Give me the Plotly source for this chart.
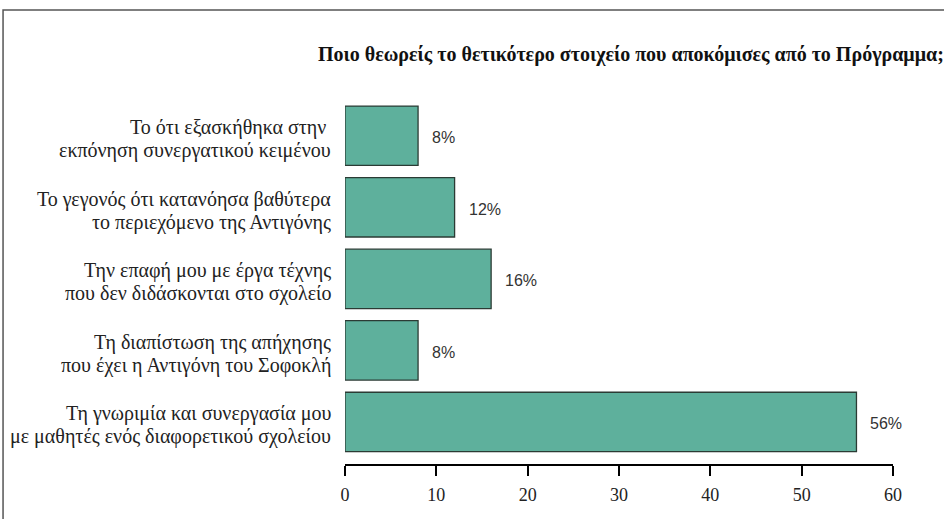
import plotly.graph_objects as go

title = "Ποιο θεωρείς το θετικότερο στοιχείο που αποκόμισες από το Πρόγραμμα;"
categories = [
    "Το ότι εξασκήθηκα στην <br>εκπόνηση συνεργατικού κειμένου",
    "Το γεγονός ότι κατανόησα βαθύτερα<br>το περιεχόμενο της Αντιγόνης",
    "Την επαφή μου με έργα τέχνης<br>που δεν διδάσκονται στο σχολείο",
    "Τη διαπίστωση της απήχησης<br>που έχει η Αντιγόνη του Σοφοκλή",
    "Τη γνωριμία και συνεργασία μου<br>με μαθητές ενός διαφορετικού σχολείου",
]
values = [8, 12, 16, 8, 56]
labels = [f"{v}%" for v in values]
tick_vals = [0, 10, 20, 30, 40, 50, 60]

SERIF = "Liberation Serif, Times New Roman, Tinos, serif"
SANS = "Liberation Sans"

fig = go.Figure()
fig.add_trace(go.Bar(
    x=values, y=categories, orientation="h",
    marker=dict(color="#5eb09c", line=dict(color="#2b3b34", width=1.3)),
    width=0.83,
    hoverinfo="skip",
))

annotations = []
for v, c, t in zip(values, categories, labels):
    annotations.append(dict(
        x=v, y=c, text=t, xref="x", yref="y", xanchor="left", yanchor="middle",
        xshift=12, yshift=-2, showarrow=False,
        font=dict(family=SANS, size=16, color="#333333")))
for c in categories:
    for k, line in enumerate(c.split("<br>")):
        annotations.append(dict(
            x=0, y=c, text=line, xref="paper", yref="y",
            xanchor="right", yanchor="middle",
            xshift=-12, yshift=8 if k == 0 else -15, showarrow=False,
            font=dict(family=SERIF, size=20, color="#222222")))
annotations.append(dict(
    text="<b>" + title + "</b>", xref="paper", yref="paper",
    x=-0.053, y=1.126, xanchor="left", yanchor="middle", showarrow=False,
    font=dict(family=SERIF, size=20, color="#111111"),
))

fig.update_layout(
    width=944, height=519,
    margin=dict(l=345, r=51, t=100, b=54),
    paper_bgcolor="white", plot_bgcolor="white",
    font=dict(family=SERIF, color="#222222"),
    showlegend=False,
    xaxis=dict(
        range=[0, 60], tickvals=tick_vals,
        showgrid=False, zeroline=False,
        showline=True, linecolor="black", linewidth=2,
        ticks="outside", ticklen=10, tickwidth=2, tickcolor="black",
        ticklabelstandoff=3,
        tickfont=dict(family=SERIF, size=18, color="#222222"),
        anchor="free", position=0,
    ),
    yaxis=dict(
        domain=[0.02, 1], autorange="reversed", showgrid=False, zeroline=False,
        showline=False, ticks="", showticklabels=False,
    ),
    annotations=annotations,
    shapes=[dict(
        type="rect", xref="paper", yref="paper",
        x0=-0.624, x1=1.2, y0=-0.3, y1=1.2466,
        line=dict(color="#555555", width=1.5), fillcolor="rgba(0,0,0,0)", layer="below",
    )],
)

fig.write_html("out.html", config={"displayModeBar": False},
               post_script="document.body.style.margin='0';")
